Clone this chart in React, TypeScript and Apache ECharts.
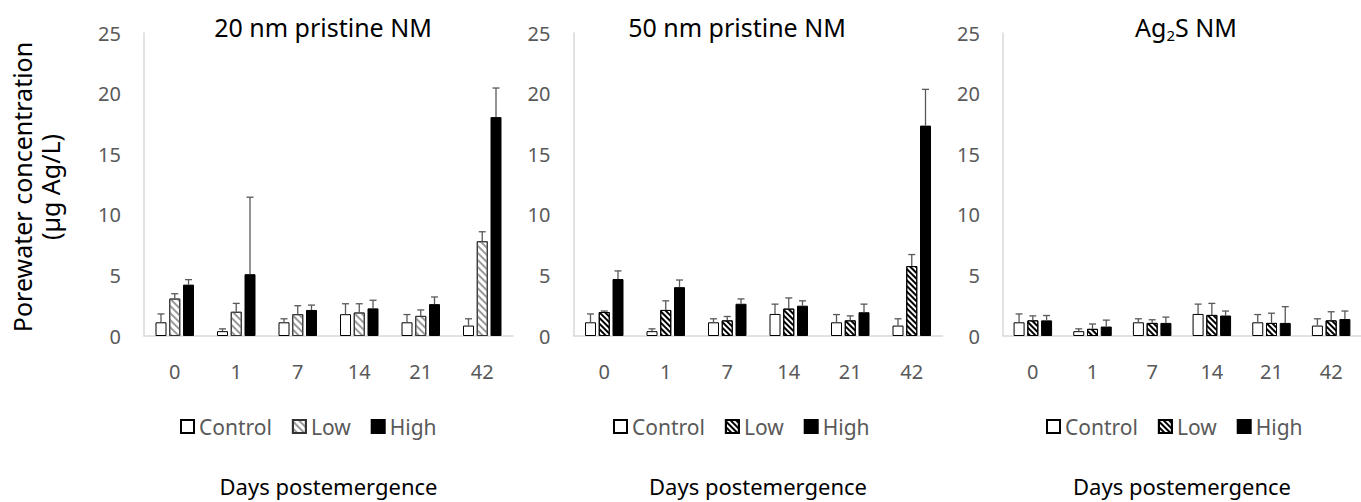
import React, { useEffect, useRef } from "react";
import * as echarts from "echarts";

// ---- data ----
const categories = ["0", "1", "7", "14", "21", "42"];
const legendNames = ["Control", "Low", "High"];
const yTicksMax = 25;

// 20 nm pristine NM
const p20Control = [1.13, 0.4, 1.13, 1.8, 1.13, 0.86];
const p20ControlSd = [0.69, 0.19, 0.29, 0.86, 0.64, 0.56];
const p20Low = [3.09, 2.0, 1.8, 1.94, 1.66, 7.82];
const p20LowSd = [0.4, 0.69, 0.7, 0.72, 0.49, 0.78];
const p20High = [4.24, 5.1, 2.15, 2.28, 2.63, 18.06];
const p20HighSd = [0.41, 6.35, 0.4, 0.67, 0.59, 2.4];

// 50 nm pristine NM
const p50Control = [1.13, 0.4, 1.13, 1.82, 1.13, 0.86];
const p50ControlSd = [0.69, 0.19, 0.29, 0.81, 0.64, 0.56];
const p50Low = [1.98, 2.15, 1.29, 2.26, 1.29, 5.77];
const p50LowSd = [0.08, 0.75, 0.32, 0.88, 0.37, 0.95];
const p50High = [4.7, 4.03, 2.66, 2.5, 1.96, 17.36];
const p50HighSd = [0.67, 0.59, 0.4, 0.4, 0.67, 2.99];

// Ag2S NM
const agControl = [1.13, 0.4, 1.13, 1.82, 1.13, 0.86];
const agControlSd = [0.69, 0.19, 0.29, 0.81, 0.64, 0.56];
const agLow = [1.29, 0.59, 1.08, 1.74, 1.08, 1.29];
const agLowSd = [0.37, 0.4, 0.26, 0.95, 0.8, 0.71];
const agHigh = [1.29, 0.78, 1.08, 1.69, 1.08, 1.4];
const agHighSd = [0.4, 0.53, 0.48, 0.37, 1.34, 0.66];

const FONT = "Noto Sans";
const BAR_W = 11;
const BAR_GAP = 0.25;
const PITCH = BAR_W * (1 + BAR_GAP);

const panels = [
  {
    left: 144,
    legendLeft: 180,
    values: [p20Control, p20Low, p20High],
    sds: [p20ControlSd, p20LowSd, p20HighSd],
    lowDecal: { color: "#9a9a9a", dashArrayY: [2, 3] },
  },
  {
    left: 573.5,
    legendLeft: 613,
    values: [p50Control, p50Low, p50High],
    sds: [p50ControlSd, p50LowSd, p50HighSd],
    lowDecal: { color: "#000000", dashArrayY: [2, 2] },
  },
  {
    left: 1003,
    legendLeft: 1046,
    values: [agControl, agLow, agHigh],
    sds: [agControlSd, agLowSd, agHighSd],
    lowDecal: { color: "#000000", dashArrayY: [2, 2] },
  },
];

function buildOption() {
  const grids: any[] = [];
  const xAxes: any[] = [];
  const yAxes: any[] = [];
  const series: any[] = [];
  const legends: any[] = [];

  panels.forEach((p, pi) => {
    grids.push({ left: p.left, top: 33, width: 369, height: 310.3 });
    xAxes.push({
      type: "category",
      gridIndex: pi,
      data: categories,
      axisLine: { show: true, lineStyle: { color: "#d9d9d9", width: 1.5 } },
      axisTick: { show: false },
      axisLabel: { color: "#595959", fontSize: 20, fontFamily: FONT, margin: 25 },
      name: "Days postemergence",
      nameLocation: "middle",
      nameGap: 139,
      nameTextStyle: { color: "#000", fontSize: 22, fontFamily: FONT },
    });
    yAxes.push({
      type: "value",
      gridIndex: pi,
      min: 0,
      max: yTicksMax,
      interval: 5,
      axisLine: { show: true, lineStyle: { color: "#d9d9d9", width: 1.5 } },
      axisTick: { show: false },
      splitLine: { show: false },
      axisLabel: { color: "#595959", fontSize: 20, fontFamily: FONT, margin: 23 },
    });

    const names = legendNames.map((n) => `${n}#${pi}`);
    const styles = [
      { color: "#ffffff", borderColor: "#000", borderWidth: 1 },
      {
        color: "#ffffff",
        borderColor: pi === 0 ? "#333" : "#000",
        borderWidth: 1,
        decal: {
          symbol: "rect",
          symbolSize: 1,
          color: p.lowDecal.color,
          dashArrayX: [1, 0],
          dashArrayY: p.lowDecal.dashArrayY,
          rotation: Math.PI / 4,
        },
      },
      { color: "#000000", borderColor: "#000", borderWidth: 1 },
    ];

    names.forEach((name, k) => {
      series.push({
        type: "bar",
        name,
        xAxisIndex: pi,
        yAxisIndex: pi,
        barWidth: BAR_W,
        barGap: `${BAR_GAP * 100}%`,
        data: p.values[k],
        itemStyle: styles[k],
        z: 2,
      });
    });

    names.forEach((name, k) => {
      const offset = (k - 1) * PITCH;
      series.push({
        type: "custom",
        name: `err-${name}`,
        xAxisIndex: pi,
        yAxisIndex: pi,
        z: 3,
        data: p.values[k].map((v, i) => [i, v, p.sds[k][i]]),
        encode: { x: 0, y: 1 },
        renderItem: (params: any, api: any) => {
          const ci = api.value(0);
          const v = api.value(1);
          const e = api.value(2);
          const base = api.coord([ci, v]);
          const top = api.coord([ci, v + e]);
          const x = base[0] + offset;
          const st = { stroke: "#595959", lineWidth: 1.3 };
          return {
            type: "group",
            children: [
              { type: "line", shape: { x1: x, y1: base[1], x2: x, y2: top[1] }, style: st },
              { type: "line", shape: { x1: x - 3.5, y1: top[1], x2: x + 3.5, y2: top[1] }, style: st },
            ],
          };
        },
      });
    });

    legends.push({
      left: p.legendLeft,
      top: 416,
      padding: 0,
      orient: "horizontal",
      data: names,
      icon: "rect",
      itemWidth: 13,
      itemHeight: 13,
      itemGap: 20,
      selectedMode: false,
      formatter: (n: string) => n.split("#")[0],
      textStyle: { color: "#595959", fontSize: 21, fontFamily: FONT },
    });
  });

  const titleStyle = { fill: "#000", fontSize: 25, fontFamily: FONT, textAlign: "center", textVerticalAlign: "middle" };

  return {
    animation: false,
    backgroundColor: "#ffffff",
    grid: grids,
    xAxis: xAxes,
    yAxis: yAxes,
    legend: legends,
    series,
    graphic: [
      { type: "text", x: 323, y: 27, style: { ...titleStyle, text: "20 nm pristine NM" } },
      { type: "text", x: 737, y: 27, style: { ...titleStyle, text: "50 nm pristine NM" } },
      {
        type: "text",
        x: 1186,
        y: 27,
        style: {
          ...titleStyle,
          text: "{a|Ag}{s|2}{a|S NM}",
          rich: {
            a: { fontSize: 25, fontFamily: FONT, fill: "#000", lineHeight: 30 },
            s: { fontSize: 15, fontFamily: FONT, fill: "#000", lineHeight: 18, verticalAlign: "bottom" },
          },
        },
      },
      {
        type: "text",
        x: 36,
        y: 187,
        rotation: Math.PI / 2,
        style: {
          text: "Porewater concentration\n(µg Ag/L)",
          fill: "#000",
          fontSize: 25,
          fontFamily: FONT,
          lineHeight: 28,
          textAlign: "center",
          textVerticalAlign: "middle",
        },
      },
    ],
  };
}

export default function App() {
  const ref = useRef<HTMLDivElement>(null);
  useEffect(() => {
    if (!ref.current) return;
    const chart = echarts.init(ref.current, null, { renderer: "svg" });
    chart.setOption(buildOption() as any);
    return () => chart.dispose();
  }, []);
  return (
    <div
      ref={ref}
      style={{ position: "absolute", left: 0, top: 0, width: 1361, height: 502, background: "#fff" }}
    />
  );
}
